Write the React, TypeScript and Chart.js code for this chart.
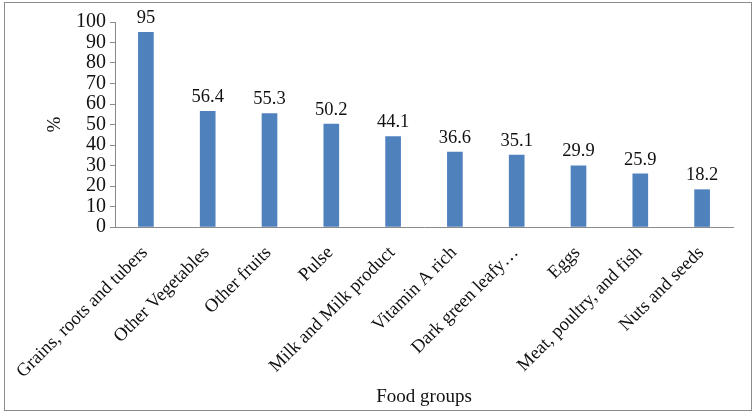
import React, { useEffect, useRef } from "react";
import { Chart, registerables } from "chart.js";

Chart.register(...registerables);

const categories = [
  "Grains, roots and tubers",
  "Other Vegetables",
  "Other fruits",
  "Pulse",
  "Milk and Milk product",
  "Vitamin A rich",
  "Dark green leafy\u2026",
  "Eggs",
  "Meat, poultry, and fish",
  "Nuts and seeds",
];
const percentages = [95, 56.4, 55.3, 50.2, 44.1, 36.6, 35.1, 29.9, 25.9, 18.2];
const yTicks = [0, 10, 20, 30, 40, 50, 60, 70, 80, 90, 100];

const FONT = '"Liberation Serif"';
const AXIS_GRAY = "#8a8a8a";

// Grey frame around the whole chart
const framePlugin = {
  id: "frame",
  beforeDraw(chart: any) {
    const { ctx } = chart;
    ctx.save();
    ctx.strokeStyle = "#8c8c8c";
    ctx.lineWidth = 1;
    ctx.strokeRect(4.5, 2.5, 747, 408);
    ctx.restore();
  },
};

// Value labels above each bar
const valueLabelPlugin = {
  id: "valueLabels",
  afterDatasetsDraw(chart: any) {
    const { ctx } = chart;
    const meta = chart.getDatasetMeta(0);
    const data = chart.data.datasets[0].data as number[];
    ctx.save();
    ctx.font = `18.5px ${FONT}`;
    ctx.fillStyle = "#111";
    ctx.textAlign = "center";
    ctx.textBaseline = "bottom";
    meta.data.forEach((bar: any, i: number) => {
      ctx.fillText(String(data[i]), bar.x, bar.y - 5);
    });
    ctx.restore();
  },
};

export default function App() {
  const canvasRef = useRef<HTMLCanvasElement | null>(null);

  useEffect(() => {
    document.body.style.margin = "0";
    const canvas = canvasRef.current;
    if (!canvas) return;
    let chart: Chart | null = null;
    let cancelled = false;

    const build = () => {
      if (cancelled) return;
      chart = new Chart(canvas, {
        type: "bar",
        data: {
          labels: categories,
          datasets: [
            {
              data: percentages,
              backgroundColor: "#4F81BD",
              barThickness: 15,
            },
          ],
        },
        options: {
          animation: false,
          responsive: false,
          maintainAspectRatio: false,
          layout: { padding: { left: 0, right: 23, top: 22, bottom: 0 } },
          plugins: {
            legend: { display: false },
            tooltip: { enabled: false },
          },
          scales: {
            x: {
              grid: { display: false, drawTicks: false },
              border: { display: true, color: AXIS_GRAY, width: 1 },
              ticks: {
                color: "#111",
                font: { family: FONT, size: 18.5 },
                minRotation: 45,
                maxRotation: 45,
                autoSkip: false,
                padding: 15,
                labelOffset: -1,
              },
              title: {
                display: true,
                text: "Food groups",
                color: "#111",
                font: { family: FONT, size: 19 },
                padding: { top: 0, bottom: 8 },
              },
              afterFit(scale: any) {
                scale.height = 189;
              },
            },
            y: {
              min: 0,
              max: 100,
              afterBuildTicks(scale: any) {
                scale.ticks = yTicks.map((v) => ({ value: v }));
              },
              grid: {
                drawOnChartArea: false,
                drawTicks: true,
                tickLength: 5,
                color: AXIS_GRAY,
              },
              border: { display: true, color: AXIS_GRAY, width: 1 },
              ticks: {
                color: "#111",
                font: { family: FONT, size: 20 },
                padding: 4,
                autoSkip: false,
              },
              title: {
                display: true,
                text: "%",
                color: "#111",
                font: { family: FONT, size: 19 },
                padding: { top: 44, bottom: 0 },
              },
              afterFit(scale: any) {
                scale.width = 115;
              },
            },
          },
        },
        plugins: [framePlugin, valueLabelPlugin],
      });
    };

    const fonts = (document as any).fonts;
    if (fonts && fonts.load) {
      Promise.all([fonts.load('18px "Liberation Serif"')])
        .catch(() => undefined)
        .then(build);
    } else {
      build();
    }

    return () => {
      cancelled = true;
      if (chart) chart.destroy();
    };
  }, []);

  return (
    <div style={{ position: "relative", width: 756, height: 416, background: "#fff" }}>
      <canvas
        ref={canvasRef}
        width={756}
        height={416}
        style={{ display: "block" }}
      />
    </div>
  );
}
